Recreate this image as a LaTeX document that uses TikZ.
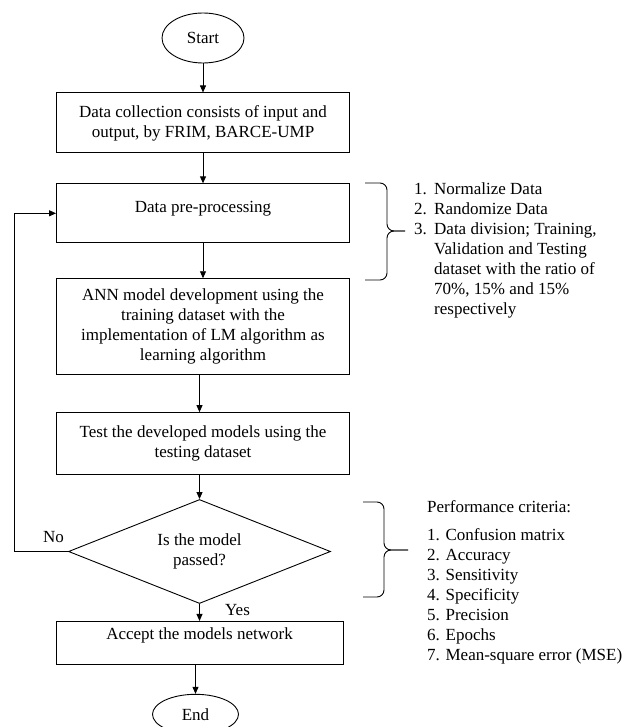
\documentclass[tikz,border=0pt]{standalone}
\usepackage{fontspec}
\setmainfont{Liberation Serif}
\usetikzlibrary{positioning,arrows.meta,shapes.geometric}

\begin{document}
\begin{tikzpicture}[
  x=1pt, y=-1pt,
  >={Triangle[length=7pt,width=6pt]},
  every node/.style={font=\fontsize{17}{20}\selectfont},
  box/.style={draw, line width=0.9pt, align=center, minimum width=293pt,
              inner sep=3pt},
  term/.style={draw, ellipse, line width=0.9pt, inner sep=0pt},
  decision/.style={draw, diamond, line width=0.9pt, align=center, inner sep=0pt,
                   aspect=2.5, minimum width=262pt, minimum height=104pt},
  lbl/.style={inner sep=0pt},
  note/.style={align=left, inner sep=0pt, anchor=north west},
  flow/.style={->, line width=0.9pt},
  curly/.style={line width=0.9pt, rounded corners=7pt}
]
  \useasboundingbox (0,0) rectangle (626,727);

  \node[term, minimum width=82pt, minimum height=50pt] (start) at (203,38) {Start};
  \node[box, minimum height=60pt, below=29pt of start] (collect)
    {Data collection consists of input and\\output, by FRIM, BARCE-UMP};
  \node[box, minimum height=59pt, text depth=13pt, below=30pt of collect] (prep)
    {Data pre-processing};
  \node[box, minimum height=96pt, below=35pt of prep] (ann)
    {ANN model development using the\\training dataset with the\\implementation of LM algorithm as\\learning algorithm};
  \node[box, minimum height=62pt, below=37pt of ann] (test)
    {Test the developed models using the\\testing dataset};
  \node[decision, below=24pt of test, xshift=-3.5pt] (dec) {Is the model\\passed?};
  \node[box, minimum width=287pt, minimum height=43pt, text depth=19pt,
        below=17pt of dec] (accept) {Accept the models network};
  \node[term, minimum width=86pt, minimum height=40pt, below=29pt of accept,
        xshift=-4pt] (end) {End};

  \node[lbl, above left=9pt and 4pt of dec.west] (no) {No};
  \node[lbl] (yes) at ([xshift=38pt,yshift=-6pt]dec.south) {Yes};

  \draw[flow] (start) -- (collect);
  \draw[flow] (collect) -- (prep);
  \draw[flow] (prep) -- (ann);
  \draw[flow] (ann.south -| dec) -- (test.north -| dec);
  \draw[flow] (test.south -| dec) -- (dec.north);
  \draw[flow] (dec.south) -- (accept.north -| dec);
  \draw[flow] (accept.south -| end) -- (end);
  \draw[flow] (dec.west) -- ++(-54,0) |- (prep.west);

  % pre-processing steps
  \draw[curly] (365,183) -- (387,183) -- (387,231) -- (405,231);
  \draw[curly] (365,280) -- (387,280) -- (387,231) -- (405,231);
  \node[note] (steps) at (414,183)
    {\makebox[20pt][l]{1.}Normalize Data\\
     \makebox[20pt][l]{2.}Randomize Data\\
     \makebox[20pt][l]{3.}Data division; Training,\\
     \hspace*{20pt}Validation and Testing\\
     \hspace*{20pt}dataset with the ratio of\\
     \hspace*{20pt}70\%, 15\% and 15\%\\
     \hspace*{20pt}respectively};

  % performance criteria
  \draw[curly] (363,502) -- (384,502) -- (384,550) -- (408,550);
  \draw[curly] (363,597) -- (384,597) -- (384,550) -- (408,550);
  \node[note] (crit) at (427,500)
    {Performance criteria:\\[8pt]
     1. Confusion matrix\\
     2. Accuracy\\
     3. Sensitivity\\
     4. Specificity\\
     5. Precision\\
     6. Epochs\\
     7. Mean-square error (MSE)};
\end{tikzpicture}
\end{document}
